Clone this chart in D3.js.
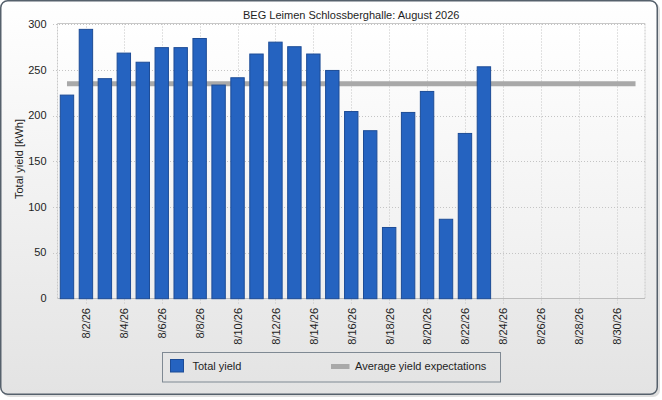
<!DOCTYPE html>
<html><head><meta charset="utf-8">
<script src="https://cdn.jsdelivr.net/npm/d3@7"></script>
<style>
html,body{margin:0;padding:0;background:#fff;}
svg{display:block;font-family:"Liberation Sans",Arial,sans-serif;}
</style></head>
<body><svg id="c" width="662" height="400"></svg>
<script>
const title = "BEG Leimen Schlossberghalle: August 2026";
const yAxisTitle = "Total yield [kWh]";
const days = ["8/1/26","8/2/26","8/3/26","8/4/26","8/5/26","8/6/26","8/7/26","8/8/26","8/9/26","8/10/26",
  "8/11/26","8/12/26","8/13/26","8/14/26","8/15/26","8/16/26","8/17/26","8/18/26","8/19/26","8/20/26",
  "8/21/26","8/22/26","8/23/26","8/24/26","8/25/26","8/26/26","8/27/26","8/28/26","8/29/26","8/30/26","8/31/26"];
const totalYield = [223,295,241,269,259,275,275,285,234,242,268,281,276,268,250,205,184,78,204,227,87,181,254];
const avgExpectation = 235;
const yTicks = [0,50,100,150,200,250,300];
const xTickLabels = ["8/2/26","8/4/26","8/6/26","8/8/26","8/10/26","8/12/26","8/14/26","8/16/26","8/18/26","8/20/26","8/22/26","8/24/26","8/26/26","8/28/26","8/30/26"];
const legendLabels = ["Total yield","Average yield expectations"];

const svg = d3.select("#c");
const defs = svg.append("defs");
const g1 = defs.append("linearGradient").attr("id","bg").attr("x1",0).attr("y1",0).attr("x2",0).attr("y2",1);
g1.append("stop").attr("offset","0%").attr("stop-color","#ffffff");
g1.append("stop").attr("offset","100%").attr("stop-color","#e3e3e3");
const g2 = defs.append("linearGradient").attr("id","pbg").attr("x1",0).attr("y1",0).attr("x2",0).attr("y2",1);
g2.append("stop").attr("offset","0%").attr("stop-color","#ffffff");
g2.append("stop").attr("offset","100%").attr("stop-color","#eeeeee");

// shadow + panel
svg.append("rect").attr("x",3).attr("y",3).attr("width",657).attr("height",394).attr("rx",7)
  .attr("fill","#c9c9c9").attr("opacity",0.6);
svg.append("rect").attr("x",0.75).attr("y",0.75).attr("width",656.5).attr("height",393.5).attr("rx",7)
  .attr("fill","url(#bg)").attr("stroke","#56616c").attr("stroke-width",1.5);

const L = 57.5, R = 645, T = 23.5, B = 298.2;
const x = d3.scaleBand().domain(days).range([L,R]).paddingInner(0.24).paddingOuter(0.12);
const y = d3.scaleLinear().domain([0,300]).range([B,24.3]);
const cx = d => x(d) + x.bandwidth()/2;

svg.append("rect").attr("x",L).attr("y",T).attr("width",R-L).attr("height",B-T).attr("fill","url(#pbg)");

// gridlines
svg.append("g").selectAll("line").data(yTicks.filter(v=>v>0)).join("line")
  .attr("x1",53).attr("x2",R).attr("y1",d=>Math.round(y(d))+0.5).attr("y2",d=>Math.round(y(d))+0.5)
  .attr("stroke","#c4c4c4").attr("stroke-dasharray","1,2");
svg.append("g").selectAll("line").data(xTickLabels).join("line")
  .attr("x1",d=>Math.round(cx(d))+0.5).attr("x2",d=>Math.round(cx(d))+0.5).attr("y1",T).attr("y2",B+7)
  .attr("stroke","#c4c4c4").attr("stroke-dasharray","1,2");
// plot frame
svg.append("line").attr("x1",L).attr("x2",R).attr("y1",T).attr("y2",T).attr("stroke","#c8c8c8");
svg.append("line").attr("x1",R).attr("x2",R).attr("y1",T).attr("y2",B).attr("stroke","#c8c8c8").attr("stroke-dasharray","2,1");
svg.append("line").attr("x1",L).attr("x2",L).attr("y1",T).attr("y2",B).attr("stroke","#c8c8c8").attr("stroke-dasharray","2,1");
svg.append("line").attr("x1",L).attr("x2",R).attr("y1",B+0.3).attr("y2",B+0.3).attr("stroke","#bcbcbc");

// average line (behind bars)
svg.append("path").datum(days)
  .attr("d",d3.line().x(d=>cx(d)).y(()=>y(avgExpectation)))
  .attr("fill","none").attr("stroke","#a9a9a9").attr("stroke-width",5);

// bars
svg.append("g").selectAll("rect").data(totalYield).join("rect")
  .attr("x",(d,i)=>x(days[i])+0.5).attr("width",x.bandwidth()-1)
  .attr("y",d=>y(d)+0.5).attr("height",d=>B-y(d))
  .attr("fill","#2563c0").attr("stroke","#1d4c96").attr("stroke-width",1);

// y tick labels
svg.append("g").selectAll("text").data(yTicks).join("text")
  .attr("x",46.5).attr("y",d=>y(d)).attr("dy","0.35em").attr("text-anchor","end")
  .attr("font-size",11).attr("fill","#1e1e1e").text(d=>d);
// x tick labels
svg.append("g").selectAll("text").data(xTickLabels).join("text")
  .attr("transform",d=>`translate(${cx(d)+0.5},308) rotate(-90)`)
  .attr("dy","0.35em").attr("text-anchor","end")
  .attr("font-size",11).attr("fill","#1e1e1e").text(d=>d);

// titles
svg.append("text").attr("x",(L+R)/2).attr("y",19).attr("text-anchor","middle")
  .attr("font-size",11).attr("fill","#1e1e1e").text(title);
svg.append("text").attr("transform","translate(23,159) rotate(-90)").attr("text-anchor","middle")
  .attr("font-size",11).attr("fill","#1e1e1e").text(yAxisTitle);

// legend
svg.append("rect").attr("x",162.5).attr("y",352.5).attr("width",338).attr("height",29.5)
  .attr("fill","none").attr("stroke","#7f8993");
svg.append("rect").attr("x",170.5).attr("y",359.5).attr("width",13).attr("height",12.5)
  .attr("fill","#2563c0").attr("stroke","#1d4c96");
svg.append("text").attr("x",192.5).attr("y",370).attr("font-size",11).attr("fill","#1e1e1e").text(legendLabels[0]);
svg.append("line").attr("x1",331).attr("x2",349.5).attr("y1",366.5).attr("y2",366.5)
  .attr("stroke","#a9a9a9").attr("stroke-width",5);
svg.append("text").attr("x",355).attr("y",370).attr("font-size",11).attr("fill","#1e1e1e").text(legendLabels[1]);
</script></body></html>
